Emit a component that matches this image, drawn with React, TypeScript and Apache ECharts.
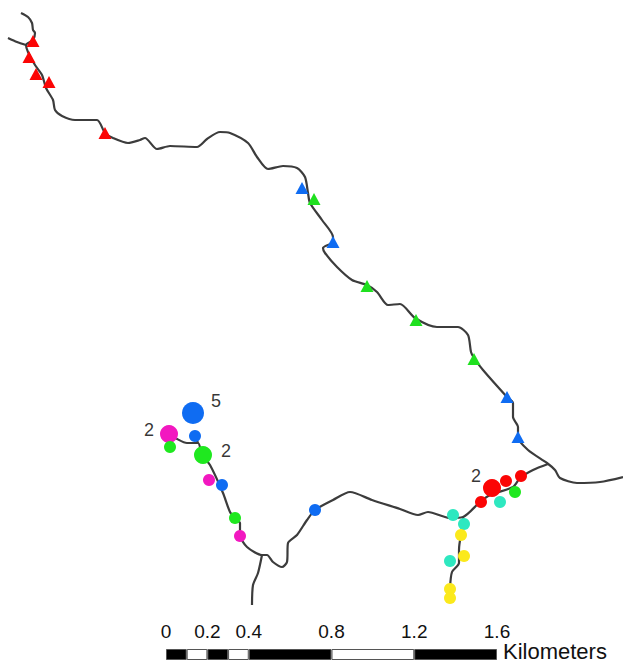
import React, { useEffect, useRef } from "react";
import * as echarts from "echarts";

const W = 623;
const H = 663;

// River network, in map units (map is 623 x 663 units)
const mainRiver = [[21,13],[28,17],[32,23],[33,30],[35,33],[33,40],[26,45],[28,52],[35,65],[42,75],[46,88],[53,100],[55,110],[62,116],[75,120],[97,120],[105,133],[113,138],[128,143],[140,140],[145,138],[157,149],[170,146],[197,147],[207,139],[220,132],[230,133],[248,143],[257,157],[268,169],[283,166],[297,168],[305,177],[308,193],[310,203],[322,220],[333,237],[333,242],[323,248],[325,253],[337,267],[352,280],[367,285],[377,292],[388,305],[400,304],[415,318],[437,327],[458,327],[468,335],[471,352],[474,358],[483,370],[507,397],[513,403],[513,417],[518,427],[518,437],[528,450],[547,463],[555,470],[560,478],[577,483],[600,482],[623,477]];
const upperBranch = [[8,38],[17,42],[26,45]];
const lowerRiver = [[548,464],[533,470],[520,478],[513,487],[490,495],[480,502],[463,517],[450,518],[428,512],[418,515],[400,509],[372,500],[350,492],[333,500],[315,510],[307,520],[297,535],[288,543],[287,562],[282,567],[273,562],[267,555],[262,555],[247,547],[240,535],[240,523],[235,518],[230,512],[223,493],[210,465],[202,455],[198,443],[187,443],[175,438],[168,435]];
const stubBranch = [[198,443],[195,436]];
const southBranchA = [[463,517],[464,525],[461,535],[459,550],[459,563],[452,572],[450,588]];
const southBranchB = [[262,555],[258,573],[253,585],[252,605]];

// Triangles
const redTriangles = [[33,41],[29,57],[36,74],[49,82],[105,133]];
const blueTriangles = [[302,188],[333,242],[507,397],[518,437]];
const greenTriangles = [[314,199],[367,286],[416,320],[474,359]];

// Circles: x, y, diameter class value
const redCircles = [[492,488,18],[506,481,12],[521,476,12],[481,502,12]];
const blueCircles = [[193,413,22],[195,436,12],[222,485,12],[315,510,12]];
const magentaCircles = [[169,434,18],[209,480,12],[240,536,12]];
const greenCircles = [[170,447,12],[203,455,18],[235,518,12],[515,492,12]];
const aquaCircles = [[500,502,12],[453,515,12],[464,524,12],[450,561,12]];
const yellowCircles = [[461,535,12],[464,556,12],[450,589,12],[450,598,12]];

// Count annotations: x, y, label
const countLabels: [number, number, string][] = [[216,401,"5"],[149,430,"2"],[226,451,"2"],[476,476,"2"]];

// Scale bar
const scaleTicks = [0, 0.2, 0.4, 0.8, 1.2, 1.6];
const scaleSegments = [0.1, 0.1, 0.1, 0.1, 0.4, 0.4, 0.4];
const scaleUnit = "Kilometers";

const RIVER = "#3c3c3c";
const FONT = "'Liberation Sans', Arial, sans-serif";

const river = (data: number[][], id: string) => ({
  type: "line", id, data, xAxisIndex: 0, yAxisIndex: 0, showSymbol: false, smooth: 0.25,
  lineStyle: { color: RIVER, width: 2.2 }, silent: true, z: 2,
});
const triangles = (data: number[][], color: string, id: string) => ({
  type: "scatter", id, data, xAxisIndex: 0, yAxisIndex: 0, symbol: "triangle", symbolSize: [13, 12],
  itemStyle: { color, opacity: 1 }, silent: true, z: 3,
});
const circles = (data: number[][], color: string, id: string) => ({
  type: "scatter", id, data, xAxisIndex: 0, yAxisIndex: 0, symbol: "circle",
  symbolSize: (v: number[]) => v[2],
  itemStyle: { color, opacity: 1 }, silent: true, z: 3,
});

export default function App() {
  const ref = useRef<HTMLDivElement>(null);
  useEffect(() => {
    const chart = echarts.init(ref.current!, undefined, { renderer: "svg" });
    chart.setOption({
      animation: false,
      backgroundColor: "#ffffff",
      grid: [
        { left: 0, top: 0, width: W, height: H, outerBoundsMode: "none" },
        { left: 166, top: 649, width: 331, height: 11, outerBoundsMode: "none" },
      ],
      xAxis: [
        { type: "value", gridIndex: 0, min: 0, max: W, show: false },
        {
          type: "value", gridIndex: 1, min: 0, max: 1.6, position: "top",
          axisLine: { show: false }, axisTick: { show: false }, splitLine: { show: false },
          axisLabel: {
            customValues: scaleTicks, margin: 8, fontSize: 19, color: "#111111", fontFamily: FONT,
            hideOverlap: false, showMinLabel: true, showMaxLabel: true, formatter: (v: number) => String(v),
          },
        },
      ],
      yAxis: [
        { type: "value", gridIndex: 0, min: 0, max: H, inverse: true, show: false },
        {
          type: "category", gridIndex: 1, data: [scaleUnit], position: "right",
          axisLine: { show: false }, axisTick: { show: false }, axisLabel: { show: false },
        },
      ],
      graphic: [
        {
          type: "text", x: 503, y: 651,
          style: { text: scaleUnit, fontSize: 22, fontFamily: FONT, fill: "#111111", verticalAlign: "middle", align: "left" },
        },
      ],
      series: [
        river(mainRiver, "main"),
        river(upperBranch, "upper"),
        river(lowerRiver, "lower"),
        river(stubBranch, "stub"),
        river(southBranchA, "southA"),
        river(southBranchB, "southB"),
        triangles(redTriangles, "#fb0505", "triR"),
        triangles(blueTriangles, "#0f6cf2", "triB"),
        triangles(greenTriangles, "#1fe01f", "triG"),
        circles(redCircles, "#fb0505", "cR"),
        circles(blueCircles, "#0f6cf2", "cB"),
        circles(magentaCircles, "#f218c0", "cM"),
        circles(greenCircles, "#1fe81f", "cG"),
        circles(aquaCircles, "#2ee8c0", "cA"),
        circles(yellowCircles, "#fbe91c", "cY"),
        {
          type: "scatter", id: "counts", data: countLabels, xAxisIndex: 0, yAxisIndex: 0, symbolSize: 1,
          itemStyle: { color: "transparent" }, silent: true, z: 4,
          label: {
            show: true, position: "inside", fontSize: 18, color: "#000000", fontFamily: FONT,
            formatter: (p: any) => p.value[2],
          },
        },
        ...scaleSegments.map((v, i) => ({
          type: "bar", id: "seg" + i, stack: "scale", data: [v], xAxisIndex: 1, yAxisIndex: 1,
          barWidth: 11, silent: true,
          itemStyle: {
            color: i === 1 || i === 3 || i === 5 ? "#ffffff" : "#000000",
            borderColor: "#555555", borderWidth: 1,
          },
        })),
      ],
    });
    return () => chart.dispose();
  }, []);
  return <div ref={ref} style={{ position: "absolute", left: 0, top: 0, width: W, height: H }} />;
}
